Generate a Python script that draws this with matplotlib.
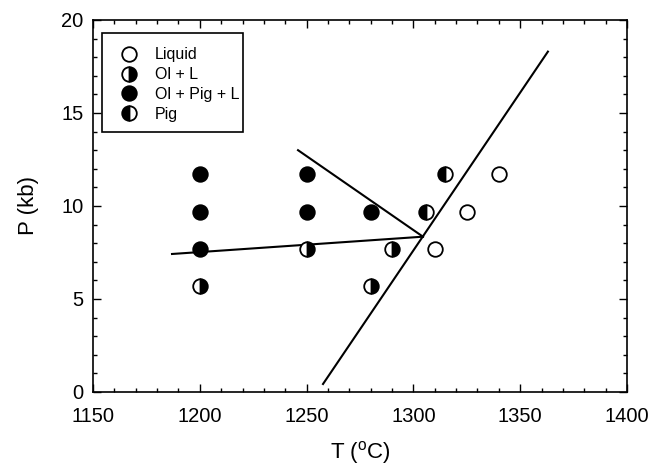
import numpy as np
import matplotlib
matplotlib.use("Agg")
import matplotlib.pyplot as plt
from matplotlib.patches import Rectangle
from matplotlib.ticker import MultipleLocator

plt.rcParams["font.family"] = ["Liberation Sans", "DejaVu Sans"]
plt.rcParams["mathtext.default"] = "regular"

# experimental run conditions (T in degC, P in kb)
liq_T = [1310, 1325, 1340]
liq_P = [7.7, 9.7, 11.7]
olL_T = [1200, 1250, 1280, 1290]
olL_P = [5.7, 7.7, 5.7, 7.7]
olpig_T = [1200, 1200, 1200, 1250, 1250, 1280]
olpig_P = [11.7, 9.7, 7.7, 11.7, 9.7, 9.7]
pig_T = [1306, 1315]
pig_P = [9.7, 11.7]

# phase boundaries
b1_T = [1187, 1304.5]
b1_P = [7.42, 8.35]
b2_T = [1246, 1304.5]
b2_P = [13.0, 8.35]
b3_T = [1257.7, 1363]
b3_P = [0.43, 18.3]

fig = plt.figure(figsize=(6.49, 4.65), dpi=100)
ax = fig.add_axes([0.1433, 0.157, 0.8227, 0.8])

for T, P in [(b1_T, b1_P), (b2_T, b2_P), (b3_T, b3_P)]:
    ax.plot(T, P, color="black", lw=1.5, zorder=2)

ms = 10.5
ax.plot(liq_T, liq_P, "o", ls="none", ms=ms, mfc="white", mec="black", mew=1.3,
        label="Liquid", zorder=3)
ax.plot(olL_T, olL_P, "o", ls="none", ms=ms, fillstyle="right", mfc="black",
        mfcalt="white", mec="black", mew=1.3, label="Ol + L", zorder=3)
ax.plot(olpig_T, olpig_P, "o", ls="none", ms=ms, mfc="black", mec="black",
        mew=1.3, label="Ol + Pig + L", zorder=3)
ax.plot(pig_T, pig_P, "o", ls="none", ms=ms, fillstyle="left", mfc="black",
        mfcalt="white", mec="black", mew=1.3, label="Pig", zorder=3)

ax.set_xlim(1150, 1400)
ax.set_ylim(0, 20)
ax.xaxis.set_major_locator(MultipleLocator(50))
ax.xaxis.set_minor_locator(MultipleLocator(10))
ax.yaxis.set_major_locator(MultipleLocator(5))
ax.yaxis.set_minor_locator(MultipleLocator(1))
ax.tick_params(which="both", direction="in", top=True, right=True, labelsize=14.5,
               width=1.0)
ax.tick_params(which="major", length=6)
ax.tick_params(which="minor", length=3)
ax.tick_params(axis="x", which="major", pad=11)
ax.tick_params(axis="y", which="major", pad=7)
for s in ax.spines.values():
    s.set_linewidth(1.2)

ax.set_xlabel("T ($^{o}$C)", fontsize=16, labelpad=9)
ax.set_ylabel("P (kb)", fontsize=16, labelpad=16)

# legend without its own frame; box drawn separately (tighter on the right)
ax.legend(loc="upper left", bbox_to_anchor=(0.017, 0.965), borderaxespad=0,
          fontsize=11.5, frameon=False, handletextpad=0.8, borderpad=0.9,
          labelspacing=0.3, handlelength=1.6)
ax.add_patch(Rectangle((0.017, 0.699), 0.264, 0.266, transform=ax.transAxes,
                       fill=False, edgecolor="black", lw=1.2, zorder=4))

fig.savefig("out.png", dpi=100)
